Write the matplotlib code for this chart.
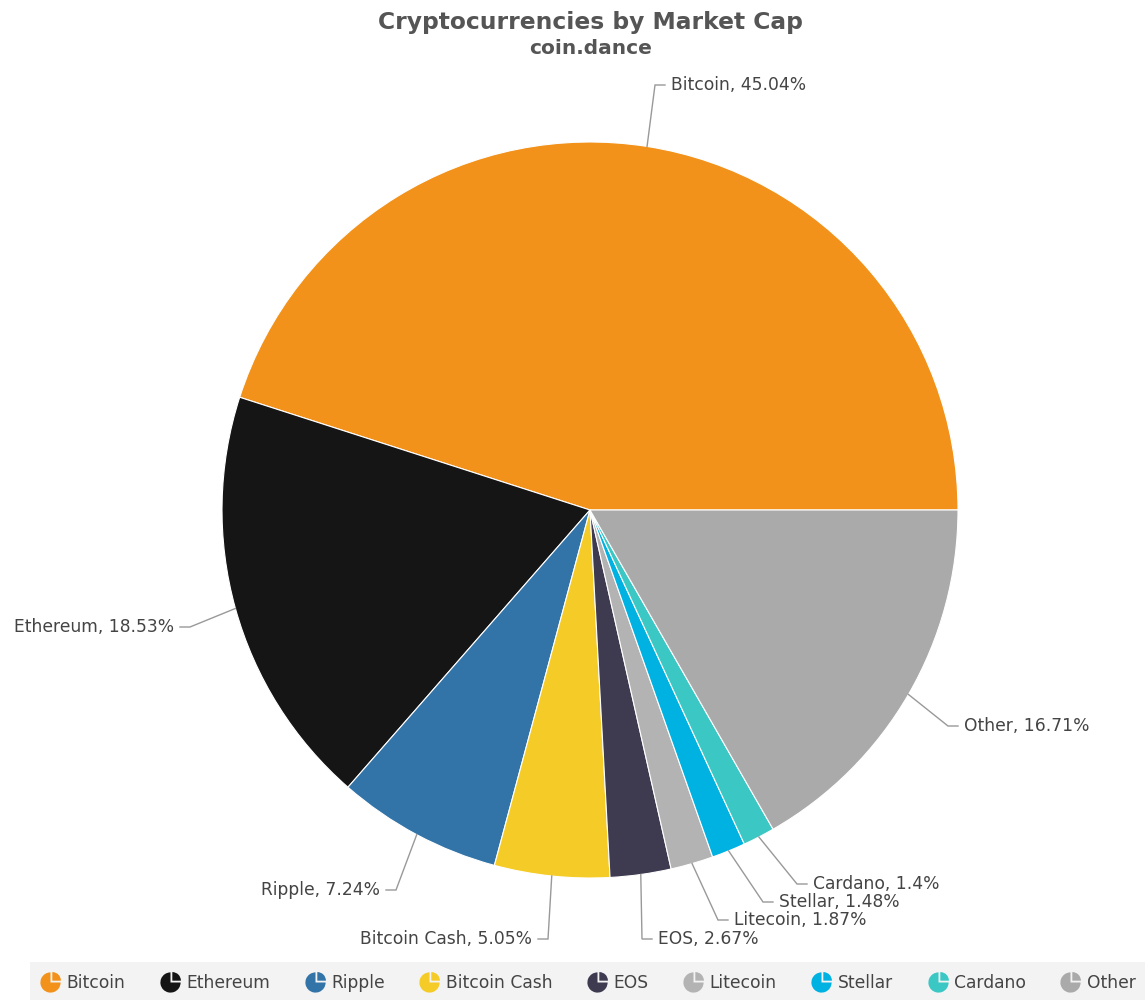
import numpy as np
import matplotlib
matplotlib.use("Agg")
import matplotlib.pyplot as plt
from matplotlib.path import Path
from matplotlib.transforms import Affine2D
from matplotlib.lines import Line2D

plt.rcParams["font.family"] = ["DejaVu Sans"]

# ── Data ───────────────────────────────────────────────────────────────────
COINS  = ["Bitcoin", "Ethereum", "Ripple", "Bitcoin Cash", "EOS",
          "Litecoin", "Stellar", "Cardano", "Other"]
SHARES = [45.04, 18.53, 7.24, 5.05, 2.67, 1.87, 1.48, 1.4, 16.71]
LABELS = ["45.04%", "18.53%", "7.24%", "5.05%", "2.67%",
          "1.87%", "1.48%", "1.4%", "16.71%"]
COLORS = ["#f2921a", "#151515", "#3274a8", "#f5cb27", "#3e3a50",
          "#b3b3b3", "#00b2e2", "#3bc7c4", "#aaaaaa"]

# ── Label layout (pixels, from top-left), spread to avoid overlap ─────────
LABEL_ROW = [85, 627, 890, 939, 939, 920, 902, 884, 726]
ELBOW_X   = [655, 190, 396, 548, 642, 718, 763, 797, 948]

TEXT_GREY = "#444444"

# ── Figure (data coords == pixels, y up) ──────────────────────────────────
W, H = 1145, 1000
fig = plt.figure(figsize=(W / 100, H / 100), dpi=100)
ax = fig.add_axes([0, 0, 1, 1])

CX, CY, R = 590, H - 510, 368

wedges, _ = ax.pie(SHARES, colors=COLORS, startangle=0, counterclock=True,
                   center=(CX, CY), radius=R, frame=True,
                   wedgeprops=dict(edgecolor="white", linewidth=0.8))
ax.set_xlim(0, W)
ax.set_ylim(0, H)
ax.axis("off")

# connectors + labels
for w, name, lab, row, ex in zip(wedges, COINS, LABELS, LABEL_ROW, ELBOW_X):
    ang = np.deg2rad((w.theta1 + w.theta2) / 2)
    c, s = np.cos(ang), np.sin(ang)
    side = 1 if c >= 0 else -1
    p0 = (CX + R * c, CY + R * s)
    p1 = (ex, H - row)
    p2 = (p1[0] + 10 * side, p1[1])
    ax.plot([p0[0], p1[0], p2[0]], [p0[1], p1[1], p2[1]],
            color="#999999", lw=1.0, solid_joinstyle="miter")
    ax.text(p2[0] + 6 * side, p2[1], f"{name}, {lab}",
            ha="left" if side > 0 else "right", va="center",
            fontsize=12.3, color=TEXT_GREY)

# ── Titles ─────────────────────────────────────────────────────────────────
fig.text(0.516, 1 - 22 / H, "Cryptocurrencies by Market Cap", ha="center",
         va="center", fontsize=16.8, fontweight="bold", color="#555555")
fig.text(0.516, 1 - 49 / H, "coin.dance", ha="center", va="center",
         fontsize=14.5, fontweight="bold", color="#555555")

# ── Legend with small pie icons ───────────────────────────────────────────
big = Path.wedge(90, 360)
small = Path.wedge(0, 90).transformed(Affine2D().scale(0.85).translate(0.18, 0.18))
ICON = Path.make_compound_path(big, small)

handles = [Line2D([], [], linestyle="none", marker=ICON, markersize=15,
                  markerfacecolor=col, markeredgecolor="none", label=name)
           for name, col in zip(COINS, COLORS)]

ax.add_patch(plt.Rectangle((30, 0), W - 30, 38, facecolor="#f3f3f3",
                           edgecolor="none", zorder=0))
leg = fig.legend(handles=handles, loc="center", ncol=9,
                 bbox_to_anchor=(0.514, 17 / H), frameon=False,
                 fontsize=12.3, handlelength=1.0, handletextpad=0.45,
                 columnspacing=2.12, labelcolor=TEXT_GREY)

fig.savefig("out.png", dpi=100)
